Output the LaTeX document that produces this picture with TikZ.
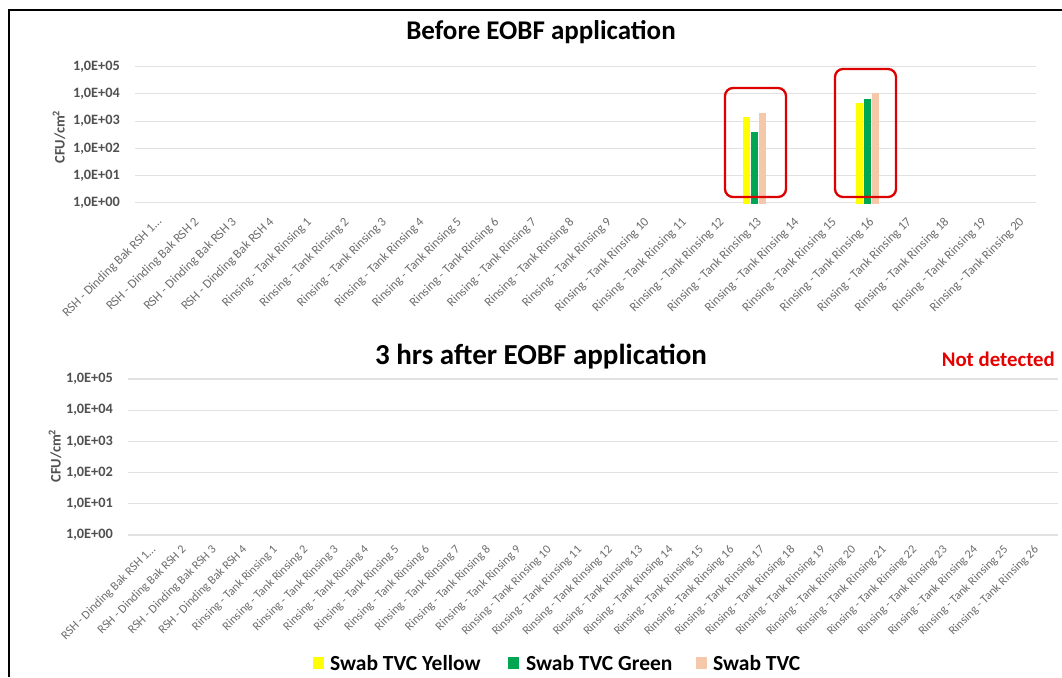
\documentclass[tikz,border=0pt]{standalone}
\usepackage{fontspec}
\setmainfont{Carlito}
\definecolor{tickgray}{RGB}{80,80,80}
\definecolor{labgray}{RGB}{110,110,110}
\definecolor{gridgray}{RGB}{225,225,225}
\definecolor{swabyellow}{RGB}{255,255,0}
\definecolor{swabgreen}{RGB}{0,166,81}
\definecolor{swabpeach}{RGB}{245,200,170}
\definecolor{boxred}{RGB}{220,0,0}
\definecolor{ndred}{RGB}{230,0,0}
\newcommand\rshfirst{RSH - Dinding Bak RSH 1\ldots}
\begin{document}
\begin{tikzpicture}[x=1pt,y=-1pt,
  grid/.style={draw=gridgray, line width=1.1pt},
  ytick/.style={anchor=east, inner sep=0pt, text=tickgray,
    font=\fontsize{14.3}{16}\selectfont\bfseries},
  xtick/.style={anchor=north east, rotate=45, inner sep=0pt, text=labgray,
    font=\fontsize{12.8}{14}\selectfont},
  xticksmall/.style={xtick, font=\fontsize{12.2}{14}\selectfont},
  ytitle/.style={rotate=90, inner sep=0pt, text=tickgray,
    font=\fontsize{14.5}{16}\selectfont\bfseries},
  charttitle/.style={inner sep=0pt, font=\fontsize{27}{30}\selectfont\bfseries},
  highlight/.style={draw=boxred, line width=2.3pt, rounded corners=8pt},
  legtext/.style={anchor=west, inner sep=0pt, font=\fontsize{21.5}{24}\selectfont\bfseries},
]
\useasboundingbox (0,0) rectangle (1062,677);
\fill[white] (0,0) rectangle (1062,677);

% outer frame (left and top edges)
\draw[line width=2.2pt, black] (9,677) -- (9,10) -- (1062,10);

% ===================== upper chart =====================
\node[charttitle] (t1) at (541,32) {Before EOBF application};

\foreach \k [count=\j from 0] in {05,04,03,02,01,00} {
  \pgfmathsetmacro{\yy}{66.7+27.2*\j}
  \draw[grid] (135,\yy) -- (1036,\yy);
  \node[ytick] (ya\j) at (120,\yy) {1,0E+\k};
}
\node[ytitle] (ya-title) at (59,137) {CFU/cm\textsuperscript{2}};

% category labels: four RSH points, then twenty tank rinsing points
\foreach \n [count=\i from 0] in {\rshfirst,RSH - Dinding Bak RSH 2,RSH - Dinding Bak RSH 3,RSH - Dinding Bak RSH 4} {
  \pgfmathsetmacro{\xx}{135+37.5*(\i+0.5)+2}
  \node[xtick] (xa\i) at (\xx,216) {\n};
}
\foreach \n in {1,...,20} {
  \pgfmathsetmacro{\xx}{135+37.5*(\n+3.5)+2}
  \node[xtick] (xar\n) at (\xx,216) {Rinsing - Tank Rinsing \n};
}

% bars (log scale, base line at 202.7)
% Tank Rinsing 13
\fill[swabyellow] (743,116.7) rectangle (750,203.5);
\fill[swabgreen]  (751,131.7) rectangle (758,203.5);
\fill[swabpeach]  (759,113.3) rectangle (766,203.5);
% Tank Rinsing 16
\fill[swabyellow] (856,102.7) rectangle (863,203.5);
\fill[swabgreen]  (864,99)    rectangle (871,203.5);
\fill[swabpeach]  (872,92.7)  rectangle (879,203.5);

\draw[highlight] (725,88) rectangle (786,197);
\draw[highlight] (835,69) rectangle (896,197);

% ===================== lower chart =====================
\node[charttitle, font=\fontsize{29}{32}\selectfont\bfseries] (t2) at (541,357) {3 hrs after EOBF application};
\node[inner sep=0pt, anchor=east, text=ndred, font=\fontsize{20.8}{23}\selectfont\bfseries]
  (nd) at (1055,359) {Not detected};

\foreach \k [count=\j from 0] in {05,04,03,02,01,00} {
  \pgfmathsetmacro{\yy}{379+31.2*\j}
  \draw[grid] (128,\yy) -- (1058,\yy);
  \node[ytick] (yb\j) at (113,\yy) {1,0E+\k};
}
\node[ytitle] (yb-title) at (55,456) {CFU/cm\textsuperscript{2}};

\foreach \n [count=\i from 0] in {\rshfirst,RSH - Dinding Bak RSH 2,RSH - Dinding Bak RSH 3,RSH - Dinding Bak RSH 4} {
  \pgfmathsetmacro{\xx}{150+30.45*\i}
  \node[xticksmall] (xb\i) at (\xx,544) {\n};
}
\foreach \n in {1,...,26} {
  \pgfmathsetmacro{\xx}{150+30.45*(\n+3)}
  \node[xticksmall] (xbr\n) at (\xx,544) {Rinsing - Tank Rinsing \n};
}

% legend
\fill[swabyellow] (313,657) rectangle (324,669);
\node[legtext] (l1) at (330,663) {Swab TVC Yellow};
\fill[swabgreen] (508,657) rectangle (519,669);
\node[legtext] (l2) at (526,663) {Swab TVC Green};
\fill[swabpeach] (696,657) rectangle (707,669);
\node[legtext] (l3) at (713,663) {Swab TVC};
\end{tikzpicture}
\end{document}
